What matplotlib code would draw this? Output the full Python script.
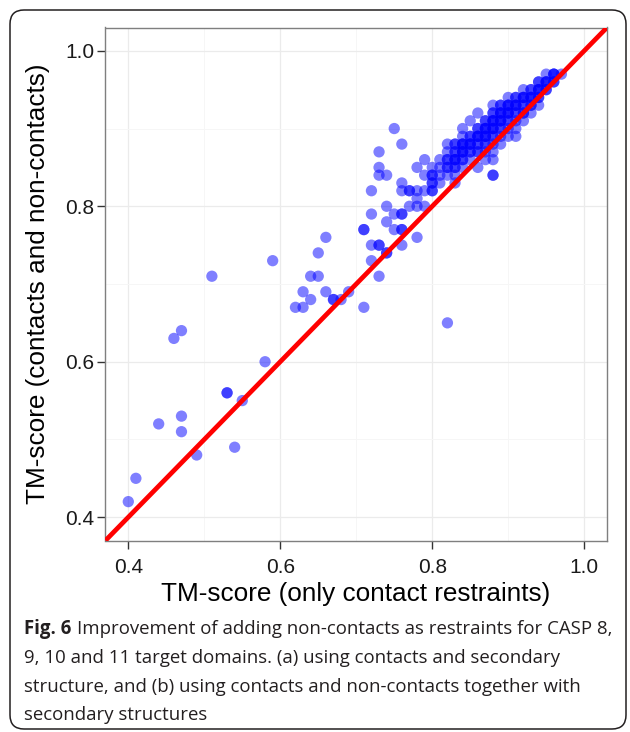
#!/usr/bin/env python3

'''TM-score with contacts and non-contacts against TM-score with contact
restraints only, for CASP 8-11 target domains (Fig. 6).'''

import matplotlib as mpl
mpl.use('Agg')
import matplotlib.pyplot as plt
from matplotlib import font_manager
from matplotlib.patches import FancyBboxPatch

# scattered targets away from the main cluster: (only contacts, contacts + non-contacts)
sparse_x = [0.40, 0.41, 0.44, 0.46, 0.47, 0.47, 0.47, 0.49, 0.51, 0.53, 0.53, 0.54,
            0.55, 0.58, 0.59, 0.62, 0.63, 0.63, 0.64, 0.65, 0.64, 0.65, 0.66, 0.66,
            0.67, 0.67, 0.68, 0.69, 0.71, 0.71, 0.71, 0.72, 0.73, 0.73, 0.72, 0.73,
            0.74, 0.74, 0.75, 0.76, 0.73, 0.73, 0.73, 0.74, 0.72, 0.72, 0.74, 0.74,
            0.75, 0.76, 0.76, 0.75, 0.76, 0.76, 0.76, 0.78, 0.82]
sparse_y = [0.42, 0.45, 0.52, 0.63, 0.64, 0.53, 0.51, 0.48, 0.71, 0.56, 0.56, 0.49,
            0.55, 0.60, 0.73, 0.67, 0.67, 0.69, 0.71, 0.71, 0.68, 0.74, 0.76, 0.69,
            0.68, 0.68, 0.68, 0.69, 0.67, 0.77, 0.77, 0.75, 0.75, 0.75, 0.73, 0.71,
            0.74, 0.74, 0.90, 0.88, 0.87, 0.85, 0.84, 0.84, 0.82, 0.79, 0.80, 0.78,
            0.79, 0.79, 0.79, 0.77, 0.77, 0.77, 0.75, 0.76, 0.65]

# main cluster, one row per y value (repeated x = overlapping targets)
cluster_y = [0.97, 0.96, 0.95, 0.94, 0.93, 0.92, 0.91, 0.90, 0.89, 0.88, 0.87,
             0.86, 0.85, 0.84, 0.83, 0.82, 0.81, 0.80]
cluster_x = [
    [0.95, 0.96, 0.96, 0.96, 0.97],
    [0.94, 0.94, 0.95, 0.95, 0.95, 0.96, 0.96],
    [0.92, 0.93, 0.93, 0.94, 0.94, 0.94, 0.95, 0.95],
    [0.90, 0.91, 0.91, 0.92, 0.92, 0.92, 0.93, 0.93, 0.93, 0.94, 0.94],
    [0.88, 0.89, 0.89, 0.90, 0.90, 0.90, 0.91, 0.91, 0.91, 0.92, 0.92, 0.93, 0.93, 0.94],
    [0.86, 0.88, 0.88, 0.89, 0.89, 0.89, 0.90, 0.90, 0.90, 0.91, 0.91, 0.92, 0.92, 0.93],
    [0.85, 0.87, 0.87, 0.88, 0.88, 0.88, 0.89, 0.89, 0.89, 0.90, 0.90, 0.91, 0.92],
    [0.84, 0.86, 0.86, 0.87, 0.87, 0.87, 0.88, 0.88, 0.88, 0.89, 0.89, 0.90, 0.91],
    [0.84, 0.85, 0.85, 0.86, 0.86, 0.86, 0.87, 0.87, 0.87, 0.88, 0.88, 0.89, 0.90, 0.91],
    [0.82, 0.83, 0.83, 0.84, 0.84, 0.84, 0.85, 0.85, 0.85, 0.86, 0.86, 0.87, 0.87, 0.88, 0.89],
    [0.82, 0.83, 0.83, 0.84, 0.84, 0.84, 0.85, 0.85, 0.86, 0.86, 0.87, 0.88],
    [0.79, 0.81, 0.82, 0.82, 0.83, 0.83, 0.83, 0.84, 0.84, 0.85, 0.87, 0.88],
    [0.78, 0.80, 0.81, 0.82, 0.82, 0.83, 0.83, 0.84, 0.86],
    [0.79, 0.80, 0.80, 0.81, 0.82, 0.83, 0.88, 0.88],
    [0.76, 0.80, 0.80, 0.81, 0.83],
    [0.76, 0.77, 0.77, 0.78, 0.79, 0.80, 0.80],
    [0.78],
    [0.77, 0.78, 0.79],
]

ticks = [0.4, 0.6, 0.8, 1.0]
minor_ticks = [0.5, 0.7, 0.9]
axis_range = (0.4, 1.0)

xlabel = 'TM-score (only contact restraints)'
ylabel = 'TM-score (contacts and non-contacts)'
caption_bold = 'Fig. 6'
caption_lines = ['Improvement of adding non-contacts as restraints for CASP 8,',
                 '9, 10 and 11 target domains. (a) using contacts and secondary',
                 'structure, and (b) using contacts and non-contacts together with',
                 'secondary structures']


def pick_font(names, default):
    '''First installed family from names.'''
    have = {f.name for f in font_manager.fontManager.ttflist}
    for n in names:
        if n in have:
            return n
    return default


def main():
    W, H, dpi = 630, 732, 100
    chart_font = pick_font(['Liberation Sans', 'Arial'], 'DejaVu Sans')
    cap_font = pick_font(['Liberation Sans Narrow', 'Open Sans'], 'DejaVu Sans')

    fig = plt.figure(figsize=(W / dpi, H / dpi), dpi=dpi)
    ax = fig.add_axes([105.5 / W, 1 - 540.5 / H, 501.5 / W, 513 / H])

    xs = list(sparse_x)
    ys = list(sparse_y)
    for yv, row in zip(cluster_y, cluster_x):
        xs += row
        ys += [yv] * len(row)

    ax.scatter(xs, ys, s=66, color='#0000FF', alpha=0.5, edgecolors='none', zorder=2)
    ax.axline((axis_range[0], axis_range[0]), slope=1, color='#FF0000', lw=3.4,
              zorder=3, solid_capstyle='butt')

    pad = 0.05 * (axis_range[1] - axis_range[0])
    ax.set_xlim(axis_range[0] - pad, axis_range[1] + pad)
    ax.set_ylim(axis_range[0] - pad, axis_range[1] + pad)

    ax.set_xticks(ticks)
    ax.set_yticks(ticks)
    ax.set_xticks(minor_ticks, minor=True)
    ax.set_yticks(minor_ticks, minor=True)
    ax.set_xticklabels(['%.1f' % t for t in ticks])
    ax.set_yticklabels(['%.1f' % t for t in ticks])
    for lab in ax.get_xticklabels() + ax.get_yticklabels():
        lab.set_fontfamily(chart_font)
    ax.tick_params(which='major', length=6, width=1.0, color='#333333',
                   labelsize=15, labelcolor='#1a1a1a')
    ax.tick_params(axis='x', which='major', pad=6.5)
    ax.tick_params(axis='y', which='major', pad=2)
    ax.tick_params(which='minor', length=0)

    ax.set_axisbelow(True)
    ax.grid(which='major', color='#EBEBEB', lw=0.9)
    ax.grid(which='minor', color='#F6F6F6', lw=0.7)
    for sp in ax.spines.values():
        sp.set_color('#7F7F7F')
        sp.set_linewidth(1.0)

    fig.text(356 / W, 1 - 601 / H, xlabel, ha='center', va='baseline',
             fontsize=18.8, family=chart_font, color='black')
    fig.text(38 / W, 1 - 284 / H, ylabel, ha='center', va='center', rotation=90,
             fontsize=18.8, family=chart_font, color='black')

    # rounded frame round the whole figure
    frame = FancyBboxPatch((10 / dpi, (H - 729) / dpi), 616 / dpi, 719 / dpi,
                           boxstyle='round,pad=0,rounding_size=0.14',
                           transform=fig.dpi_scale_trans, fill=False,
                           edgecolor='#231F20', lw=1.1)
    fig.patches.append(frame)

    # caption, sized so the first line fills the frame width
    cap_color = '#231F20'
    x0 = 24 / W
    baselines = [634, 663, 692, 720]
    target = 586.0
    renderer = fig.canvas.get_renderer()
    fs = 15.0
    bold = fig.text(x0, 1 - baselines[0] / H, caption_bold, fontsize=fs,
                    family=cap_font, weight='bold', color=cap_color, va='baseline')
    rest = fig.text(x0, 1 - baselines[0] / H, caption_lines[0], fontsize=fs,
                    family=cap_font, color=cap_color, va='baseline')
    w_total = (bold.get_window_extent(renderer).width + 0.28 * fs * dpi / 72
               + rest.get_window_extent(renderer).width)
    fs = fs * target / w_total
    bold.set_fontsize(fs)
    rest.set_fontsize(fs)
    w_bold = bold.get_window_extent(renderer).width
    rest.set_x(x0 + (w_bold + 0.28 * fs * dpi / 72) / W)
    for line, b in zip(caption_lines[1:], baselines[1:]):
        fig.text(x0, 1 - b / H, line, fontsize=fs, family=cap_font,
                 color=cap_color, va='baseline')

    fig.savefig('out.png', dpi=dpi)
    plt.close(fig)


if __name__ == '__main__':
    main()
